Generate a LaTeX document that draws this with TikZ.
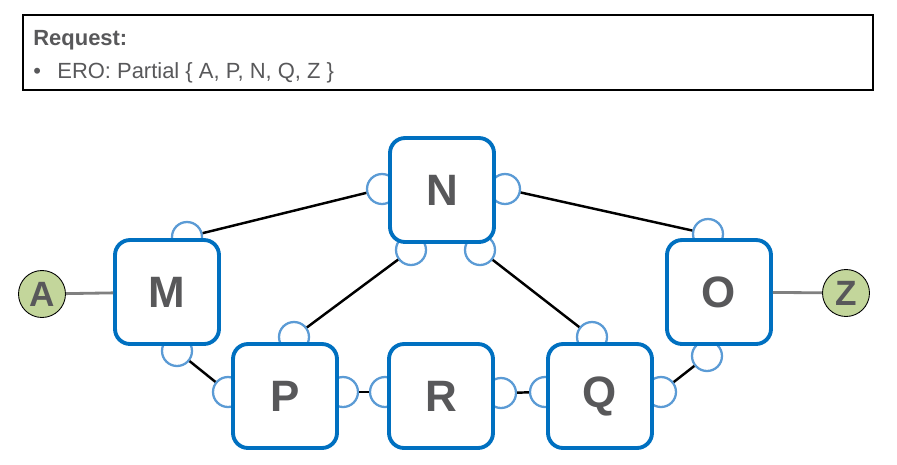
\documentclass[tikz,border=0pt]{standalone}
\usepackage{fontspec}
\setmainfont{Liberation Sans}
\definecolor{boxblue}{HTML}{0070C0}
\definecolor{portblue}{HTML}{5B9BD5}
\definecolor{termgreen}{HTML}{C3D69B}
\definecolor{txtgray}{HTML}{58585A}
\begin{document}
\begin{tikzpicture}[x=0.02cm, y=-0.02cm,
		router/.style={draw=boxblue, line width=2.2pt, fill=white, rounded corners=0.3cm,
			minimum width=2.08cm, minimum height=2.08cm, text=txtgray,
			font=\fontsize{25}{25}\selectfont\bfseries},
		port/.style={circle, draw=portblue, line width=1.3pt, fill=white, minimum size=0.6cm, inner sep=0pt},
		term/.style={circle, draw=black, line width=0.5pt, fill=termgreen, minimum size=0.94cm,
			inner sep=0pt, text=txtgray, font=\fontsize{20}{20}\selectfont\bfseries},
		reqtext/.style={anchor=base west, inner sep=0pt, text=txtgray, font=\fontsize{12.5}{14}\selectfont},
		link/.style={line width=1.4pt, black},
		access/.style={line width=1.6pt, gray}]
		\useasboundingbox (0, 0) rectangle (897, 464);

		% request box
		\draw[line width=0.6pt] (23, 15) rectangle (873, 90);
		\node[reqtext, font=\fontsize{12.5}{14}\selectfont\bfseries] (req) at (33, 45) {Request:};
		\node[reqtext] (bul) at (33, 78) {\textbullet};
		\node[reqtext] (ero) at (57, 78) {ERO: Partial \{ A, P, N, Q, Z \}};

		% ports
		\node[port] (mt) at (187, 237) {};
		\node[port] (mb) at (177, 351) {};
		\node[port] (nl) at (382, 189) {};
		\node[port] (nr) at (505, 189) {};
		\node[port] (nbl) at (411, 250) {};
		\node[port] (nbr) at (480, 250) {};
		\node[port] (ot) at (708, 234) {};
		\node[port] (ob) at (707, 356) {};
		\node[port] (pt) at (294, 337) {};
		\node[port] (pl) at (228, 392) {};
		\node[port] (pr) at (343, 392) {};
		\node[port] (rl) at (385, 392) {};
		\node[port] (rr) at (501, 393) {};
		\node[port] (ql) at (545, 392) {};
		\node[port] (qt) at (592, 337) {};
		\node[port] (qr) at (661, 392) {};

		% routers
		\node[router] (m) at (167, 292) {M};
		\node[router] (n) at (442, 190) {N};
		\node[router] (o) at (719, 292) {O};
		\node[router] (p) at (285, 396) {P};
		\node[router] (r) at (441, 396) {R};
		\node[router] (q) at (600, 396) {Q};

		% end points
		\node[term] (a) at (42, 294) {A};
		\node[term] (z) at (846, 293) {Z};

		% links
		\draw[link] (mt) -- (nl);
		\draw[link] (nr) -- (ot);
		\draw[link] (nbl) -- (pt);
		\draw[link] (nbr) -- (qt);
		\draw[link] (mb) -- (pl);
		\draw[link] (pr) -- (rl);
		\draw[link] (rr) -- (ql);
		\draw[link] (qr) -- (ob);
		\draw[access] (a) -- (m);
		\draw[access] (o) -- (z);
	\end{tikzpicture}
\end{document}
